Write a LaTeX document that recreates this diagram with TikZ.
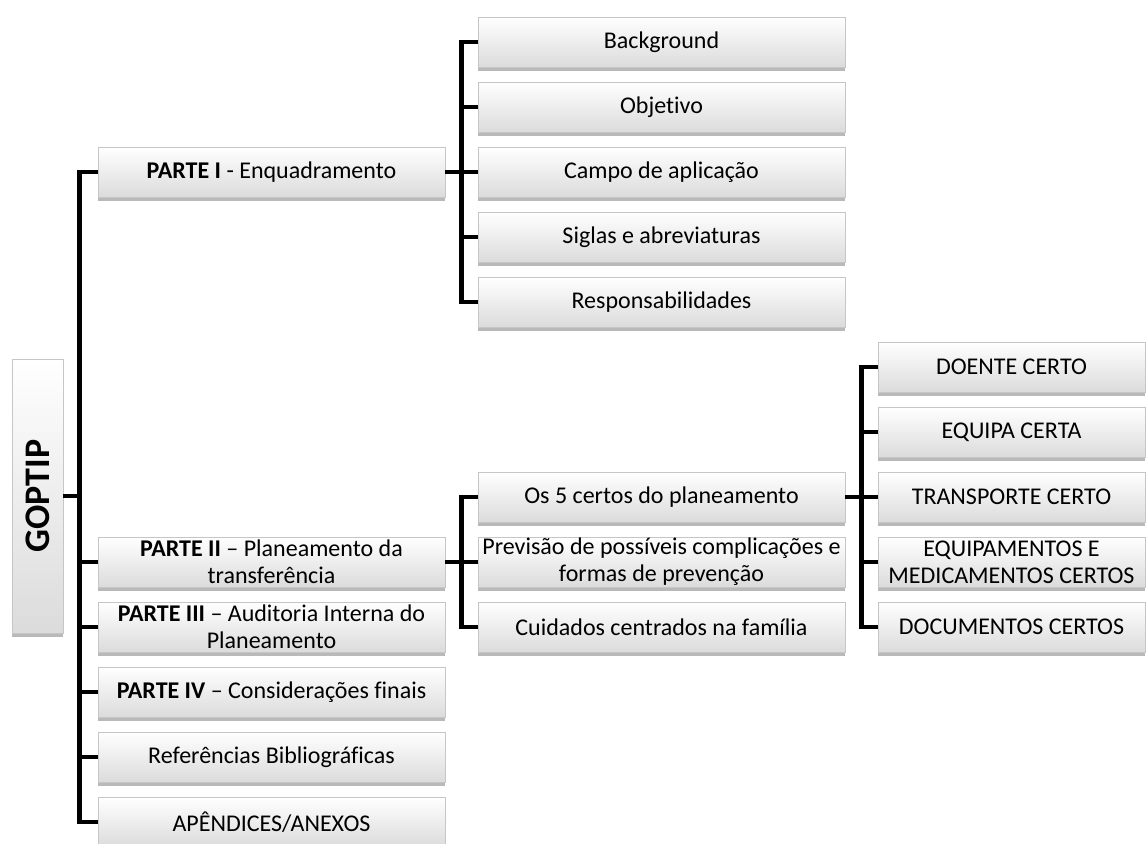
\documentclass[tikz,border=0pt]{standalone}
\usepackage{fontspec}
\setmainfont{Carlito}[Ligatures={TeX,NoCommon}]
\usepackage{tikz}
\usetikzlibrary{positioning,shadows}

\tikzset{
  box/.style={rectangle, draw=gray!45, top color=white, bottom color=gray!28,
    drop shadow={shadow xshift=0pt, shadow yshift=-2pt, opacity=0.55},
    minimum height=25pt, inner sep=0pt, align=center,
    font=\fontsize{12}{13.6}\selectfont},
  partbox/.style={box, minimum width=173.5pt},
  subbox/.style={box, minimum width=183.5pt},
  certobox/.style={box, minimum width=133.5pt},
  conn/.style={line width=2.2pt, line join=miter}
}

\begin{document}
\begin{tikzpicture}[node distance=32.5pt]
    \useasboundingbox (0,0) rectangle (573.5pt,-421.5pt);
    % Root
    \node[box, minimum width=25.5pt, minimum height=137pt] (goptip) at (18.75pt,-248pt)
        {\rotatebox{90}{\fontsize{18}{20}\selectfont\bfseries GOPTIP}};

    % Parts
    \node[partbox] (p1) at (135.75pt,-86pt) {\textbf{PARTE I} - Enquadramento};
    \node[partbox] (p2) at (135.75pt,-281pt) {\textbf{PARTE II} – Planeamento da\\transferência};
    \node[partbox, below of=p2] (p3) {\textbf{PARTE III} – Auditoria Interna do\\Planeamento};
    \node[partbox, below of=p3] (p4) {\textbf{PARTE IV} – Considerações finais};
    \node[partbox, below of=p4] (refs) {Referências Bibliográficas};
    \node[partbox, below of=refs] (anexos) {APÊNDICES/ANEXOS};

    % Parte I
    \node[subbox] (bg) at (330.75pt,-21pt) {Background};
    \node[subbox, below of=bg] (obj) {Objetivo};
    \node[subbox, below of=obj] (campo) {Campo de aplicação};
    \node[subbox, below of=campo] (siglas) {Siglas e abreviaturas};
    \node[subbox, below of=siglas] (resp) {Responsabilidades};

    % Parte II
    \node[subbox] (certos) at (330.75pt,-248.5pt) {Os 5 certos do planeamento};
    \node[subbox, below of=certos] (prev) {Previsão de possíveis complicações e\\formas de prevenção};
    \node[subbox, below of=prev] (familia) {Cuidados centrados na família};

    % Os 5 certos
    \node[certobox] (doente) at (505.75pt,-183.5pt) {DOENTE CERTO};
    \node[certobox, below of=doente] (equipa) {EQUIPA CERTA};
    \node[certobox, below of=equipa] (transp) {TRANSPORTE CERTO};
    \node[certobox, below of=transp] (equip) {EQUIPAMENTOS E\\MEDICAMENTOS CERTOS};
    \node[certobox, below of=equip] (docs) {DOCUMENTOS CERTOS};

    % Edges
    \draw[conn] (p1.west) -- ++(-9pt,0) |- (goptip.east);
    \draw[conn] (p2.west) -- ++(-9pt,0) |- (goptip.east);
    \draw[conn] (p3.west) -- ++(-9pt,0) |- (goptip.east);
    \draw[conn] (p4.west) -- ++(-9pt,0) |- (goptip.east);
    \draw[conn] (refs.west) -- ++(-9pt,0) |- (goptip.east);
    \draw[conn] (anexos.west) -- ++(-9pt,0) |- (goptip.east);

    \draw[conn] (bg.west) -- ++(-8pt,0) |- (p1.east);
    \draw[conn] (obj.west) -- ++(-8pt,0) |- (p1.east);
    \draw[conn] (campo.west) -- ++(-8pt,0) |- (p1.east);
    \draw[conn] (siglas.west) -- ++(-8pt,0) |- (p1.east);
    \draw[conn] (resp.west) -- ++(-8pt,0) |- (p1.east);

    \draw[conn] (certos.west) -- ++(-8pt,0) |- (p2.east);
    \draw[conn] (prev.west) -- ++(-8pt,0) |- (p2.east);
    \draw[conn] (familia.west) -- ++(-8pt,0) |- (p2.east);

    \draw[conn] (doente.west) -- ++(-8pt,0) |- (certos.east);
    \draw[conn] (equipa.west) -- ++(-8pt,0) |- (certos.east);
    \draw[conn] (transp.west) -- ++(-8pt,0) |- (certos.east);
    \draw[conn] (equip.west) -- ++(-8pt,0) |- (certos.east);
    \draw[conn] (docs.west) -- ++(-8pt,0) |- (certos.east);
\end{tikzpicture}
\end{document}
